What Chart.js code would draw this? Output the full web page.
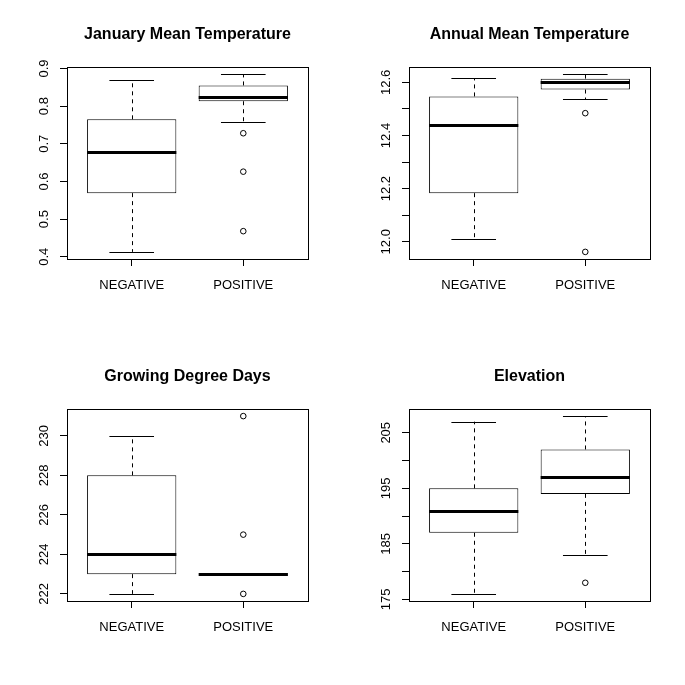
<!DOCTYPE html>
<html>
<head>
<meta charset="utf-8">
<script src="https://cdn.jsdelivr.net/npm/chart.js@4.4.1/dist/chart.umd.min.js"></script>
<style>
  html, body { margin: 0; padding: 0; background: #fff; }
  #wrap { position: relative; width: 685px; height: 685px; background: #fff; }
  .panel { position: absolute; width: 342px; height: 342px; }
</style>
</head>
<body>
<div id="wrap">
  <div class="panel" style="left:0;top:0"><canvas id="c1" width="342" height="342"></canvas></div>
  <div class="panel" style="left:342px;top:0"><canvas id="c2" width="342" height="342"></canvas></div>
  <div class="panel" style="left:0;top:342px"><canvas id="c3" width="342" height="342"></canvas></div>
  <div class="panel" style="left:342px;top:342px"><canvas id="c4" width="342" height="342"></canvas></div>
</div>
<script>
// ---------- DATA ----------
const categories = ['NEGATIVE', 'POSITIVE'];

// January Mean Temperature
const janLow  = [0.413, 0.759];
const janQ1   = [0.569, 0.813];
const janMed  = [0.677, 0.825];
const janQ3   = [0.765, 0.855];
const janHigh = [0.869, 0.885];
const janOut  = [[], [0.728, 0.626, 0.468]];
const janTicks  = [0.4, 0.5, 0.6, 0.7, 0.8, 0.9];
const janLabels = ['0.4', '0.5', '0.6', '0.7', '0.8', '0.9'];

// Annual Mean Temperature
const annLow  = [12.012, 12.537];
const annQ1   = [12.183, 12.573];
const annMed  = [12.438, 12.601];
const annQ3   = [12.547, 12.614];
const annHigh = [12.616, 12.631];
const annOut  = [[], [12.484, 11.962]];
const annTicks  = [12.0, 12.1, 12.2, 12.3, 12.4, 12.5, 12.6];
const annLabels = ['12.0', '', '12.2', '', '12.4', '', '12.6'];

// Growing Degree Days
const gddLow  = [222, 223];
const gddQ1   = [223, 223];
const gddMed  = [224, 223];
const gddQ3   = [228, 223];
const gddHigh = [230, 223];
const gddOut  = [[], [231, 225, 222]];
const gddTicks  = [222, 224, 226, 228, 230];
const gddLabels = ['222', '224', '226', '228', '230'];

// Elevation
const eleLow  = [176, 183];
const eleQ1   = [187, 194];
const eleMed  = [191, 197];
const eleQ3   = [195, 202];
const eleHigh = [207, 208];
const eleOut  = [[], [178]];
const eleTicks  = [175, 180, 185, 190, 195, 200, 205];
const eleLabels = ['175', '', '185', '', '195', '', '205'];

// ---------- DRAWING ----------
const FONT = "'Liberation Sans', Arial, Helvetica, sans-serif";

function makePanel(canvasId, title, low, q1, med, q3, high, outs, tickVals, tickLabels) {
  const allVals = low.concat(high, ...outs);
  const dmin = Math.min(...allVals), dmax = Math.max(...allVals);
  const ext = (dmax - dmin) * 0.04;

  const boxData = categories.map((c, i) => ({ x: i + 1, y: [q1[i], q3[i]] }));
  const outData = [];
  outs.forEach((arr, i) => arr.forEach(v => outData.push({ x: i + 1, y: v })));

  const boxPlugin = {
    id: 'boxExtras',
    afterDatasetsDraw(chart) {
      const ctx = chart.ctx, xs = chart.scales.x, ys = chart.scales.y;
      ctx.save();
      ctx.strokeStyle = '#000';
      for (let i = 0; i < categories.length; i++) {
        const cx = Math.round(xs.getPixelForValue(i + 1)) + 0.5;
        const capL = xs.getPixelForValue(i + 1 - 0.2), capR = xs.getPixelForValue(i + 1 + 0.2);
        const boxL = xs.getPixelForValue(i + 1 - 0.4), boxR = xs.getPixelForValue(i + 1 + 0.4);
        // dashed whiskers
        ctx.lineWidth = 1;
        ctx.setLineDash([4, 4]);
        ctx.beginPath();
        ctx.moveTo(cx, ys.getPixelForValue(q3[i]));
        ctx.lineTo(cx, ys.getPixelForValue(high[i]));
        ctx.moveTo(cx, ys.getPixelForValue(q1[i]));
        ctx.lineTo(cx, ys.getPixelForValue(low[i]));
        ctx.stroke();
        // staples
        ctx.setLineDash([]);
        ctx.beginPath();
        const yh = Math.round(ys.getPixelForValue(high[i])) + 0.5;
        const yl = Math.round(ys.getPixelForValue(low[i])) + 0.5;
        ctx.moveTo(capL, yh); ctx.lineTo(capR, yh);
        ctx.moveTo(capL, yl); ctx.lineTo(capR, yl);
        ctx.stroke();
        // median
        ctx.lineWidth = 3;
        ctx.lineCap = 'butt';
        ctx.beginPath();
        const ym = Math.round(ys.getPixelForValue(med[i]));
        ctx.moveTo(boxL, ym + 0.5); ctx.lineTo(boxR, ym + 0.5);
        ctx.stroke();
      }
      ctx.restore();
    },
    afterDraw(chart) {
      const ctx = chart.ctx, a = chart.chartArea, ys = chart.scales.y;
      ctx.save();
      // frame
      ctx.strokeStyle = '#000';
      ctx.lineWidth = 1;
      ctx.strokeRect(Math.round(a.left) + 0.5, Math.round(a.top) + 0.5,
                     Math.round(a.right - a.left), Math.round(a.bottom - a.top));
      // title
      ctx.fillStyle = '#000';
      ctx.font = 'bold 16px ' + FONT;
      ctx.textAlign = 'center';
      ctx.textBaseline = 'alphabetic';
      ctx.fillText(title, (a.left + a.right) / 2, 39);
      // rotated y tick labels
      ctx.font = '13px ' + FONT;
      tickVals.forEach((v, k) => {
        if (!tickLabels[k]) return;
        ctx.save();
        ctx.translate(48, ys.getPixelForValue(v));
        ctx.rotate(-Math.PI / 2);
        ctx.textAlign = 'center';
        ctx.textBaseline = 'alphabetic';
        ctx.fillText(tickLabels[k], 0, 0);
        ctx.restore();
      });
      ctx.restore();
    }
  };

  const axisGrid = { display: true, drawOnChartArea: false, drawTicks: true, tickLength: 7,
                     color: '#000', lineWidth: 1, offset: false };

  return new Chart(document.getElementById(canvasId), {
    data: {
      datasets: [
        { type: 'bar', data: boxData, backgroundColor: '#ffffff', borderColor: '#000000',
          borderWidth: 1, borderSkipped: false, barPercentage: 0.8, categoryPercentage: 1.0 },
        { type: 'line', data: outData, showLine: false, pointStyle: 'circle', pointRadius: 2.8,
          pointBorderWidth: 1, pointBorderColor: '#000', pointBackgroundColor: 'rgba(0,0,0,0)' }
      ]
    },
    options: {
      responsive: false,
      animation: false,
      events: [],
      layout: { padding: { top: 67, right: 34, left: 0, bottom: 0 } },
      plugins: { legend: { display: false }, tooltip: { enabled: false }, title: { display: false } },
      scales: {
        x: {
          type: 'linear', min: 0.42, max: 2.58, offset: false,
          afterBuildTicks: s => { s.ticks = categories.map((c, i) => ({ value: i + 1 })); },
          afterFit: s => { s.height = 83; },
          grid: axisGrid,
          border: { display: false },
          ticks: {
            autoSkip: false, maxRotation: 0, minRotation: 0, padding: 12,
            color: '#000', font: { family: FONT, size: 13 },
            callback: (v, idx) => categories[idx]
          }
        },
        y: {
          type: 'linear', min: dmin - ext, max: dmax + ext,
          afterBuildTicks: s => { s.ticks = tickVals.map(v => ({ value: v })); },
          afterFit: s => { s.width = 67; },
          grid: axisGrid,
          border: { display: false },
          ticks: { display: false }
        }
      }
    },
    plugins: [boxPlugin]
  });
}

makePanel('c1', 'January Mean Temperature', janLow, janQ1, janMed, janQ3, janHigh, janOut, janTicks, janLabels);
makePanel('c2', 'Annual Mean Temperature', annLow, annQ1, annMed, annQ3, annHigh, annOut, annTicks, annLabels);
makePanel('c3', 'Growing Degree Days', gddLow, gddQ1, gddMed, gddQ3, gddHigh, gddOut, gddTicks, gddLabels);
makePanel('c4', 'Elevation', eleLow, eleQ1, eleMed, eleQ3, eleHigh, eleOut, eleTicks, eleLabels);
</script>
</body>
</html>
